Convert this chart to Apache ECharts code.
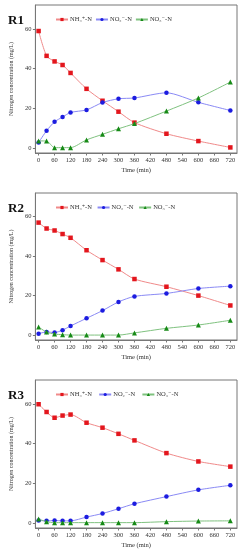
<!DOCTYPE html>
<html><head><meta charset="utf-8">
<script src="https://cdn.jsdelivr.net/npm/echarts@6/dist/echarts.min.js"></script>
<style>html,body{margin:0;padding:0;background:#fff}#c{width:243px;height:550px}</style>
</head><body><div id="c"></div>
<script>
const times = [0, 30, 60, 90, 120, 180, 240, 300, 360, 480, 600, 720];
const xTicks = [0, 60, 120, 180, 240, 300, 360, 420, 480, 540, 600, 660, 720];
const yTicks = [0, 20, 40, 60];
const panelTitles = ['R1', 'R2', 'R3'];
const seriesNames = ['NH\u2084\u207A-N', 'NO\u2082\u207B-N', 'NO\u2083\u207B-N'];

const r1NH4 = [58.9, 46.4, 43.6, 41.8, 37.8, 29.8, 23.8, 18.3, 12.8, 7.2, 3.5, 0.3];
const r1NO2 = [2.8, 8.7, 13.2, 15.6, 17.9, 19.2, 22.9, 24.8, 25.2, 27.8, 23.0, 18.9];
const r1NO3 = [3.6, 3.5, 0.2, 0.2, 0.2, 4.1, 6.9, 9.7, 12.3, 18.6, 25.2, 33.2];

const r2NH4 = [57.0, 54.0, 53.0, 51.2, 49.3, 43.0, 38.0, 33.3, 28.4, 24.5, 20.0, 15.0];
const r2NO2 = [0.7, 1.6, 1.3, 2.5, 4.6, 8.5, 12.4, 16.8, 19.6, 21.1, 23.6, 24.8];
const r2NO3 = [4.1, 1.5, 0.5, 0.2, 0.0, 0.0, 0.0, 0.0, 1.1, 3.4, 5.1, 7.5];

const r3NH4 = [59.8, 55.9, 53.0, 54.1, 54.6, 50.5, 48.0, 44.9, 41.6, 35.2, 31.0, 28.4];
const r3NO2 = [1.3, 1.1, 1.3, 1.1, 1.1, 3.0, 4.8, 7.2, 9.7, 13.3, 16.7, 19.0];
const r3NO3 = [2.0, 0.7, 0.2, 0.2, 0.2, 0.2, 0.2, 0.2, 0.2, 0.7, 1.0, 1.1];

const panels = [[r1NH4, r1NO2, r1NO3], [r2NH4, r2NO2, r2NO3], [r3NH4, r3NO2, r3NO3]];
const tops = [5, 193, 380];
const heights = [148, 147, 148];
const markerColors = ['#e3161d', '#1c1ce0', '#168a16'];
const lineColors = ['#f08a8a', '#8a8af5', '#7fc27f'];
const symbols = ['rect', 'circle', 'triangle'];
const FONT = '"Liberation Serif", "DejaVu Serif", serif';

const grid = [], xAxis = [], yAxis = [], series = [], legend = [], title = [];
panels.forEach((p, i) => {
  const suffix = ' '.repeat(i);
  grid.push({left: 26, width: 211, top: tops[i], height: heights[i], show: true, borderColor: '#777', borderWidth: 1});
  xAxis.push({
    type: 'value', gridIndex: i, min: -12, max: 745,
    name: 'Time (min)', nameLocation: 'middle', nameGap: 14,
    nameTextStyle: {fontFamily: FONT, fontSize: 6.5, color: '#333'},
    axisLine: {show: true, onZero: false, lineStyle: {color: '#777'}},
    axisTick: {show: true, length: 2.5, customValues: xTicks, lineStyle: {color: '#777'}},
    axisLabel: {customValues: xTicks, fontFamily: FONT, fontSize: 6.5, color: '#333', margin: 4},
    splitLine: {show: false}
  });
  yAxis.push({
    type: 'value', gridIndex: i, min: -2.5, max: 72,
    name: 'Nitrogen concentration (mg/L)', nameLocation: 'middle', nameGap: 16,
    nameTextStyle: {fontFamily: FONT, fontSize: 6, color: '#333'},
    axisLine: {show: true, onZero: false, lineStyle: {color: '#777'}},
    axisTick: {show: true, length: 2.5, customValues: yTicks, lineStyle: {color: '#777'}},
    axisLabel: {customValues: yTicks, fontFamily: FONT, fontSize: 6.5, color: '#333', margin: 4},
    splitLine: {show: false}
  });
  title.push({text: panelTitles[i], left: 3, top: tops[i] + 4, textStyle: {fontFamily: FONT, fontWeight: 'bold', fontSize: 13, color: '#111'}});
  legend.push({
    top: tops[i] + 6, left: 50, itemGap: 3, itemWidth: 12, itemHeight: 4,
    textStyle: {fontFamily: FONT, fontSize: 6.5, color: '#333', padding: [0, 0, 0, -3]},
    data: seriesNames.map(n => n + suffix),
    selectedMode: false
  });
  p.forEach((vals, k) => {
    series.push({
      type: 'line', name: seriesNames[k] + suffix,
      xAxisIndex: i, yAxisIndex: i,
      data: times.map((t, j) => [t, vals[j]]),
      smooth: 0.25, symbol: symbols[k], symbolSize: k === 2 ? 5 : 4.5,
      itemStyle: {color: markerColors[k]},
      lineStyle: {color: lineColors[k], width: 1},
      z: 3 + k
    });
  });
});

const chart = echarts.init(document.getElementById('c'), null, {renderer: 'canvas'});
chart.setOption({animation: false, backgroundColor: '#fff', grid, xAxis, yAxis, series, legend, title});
</script>
</body></html>
